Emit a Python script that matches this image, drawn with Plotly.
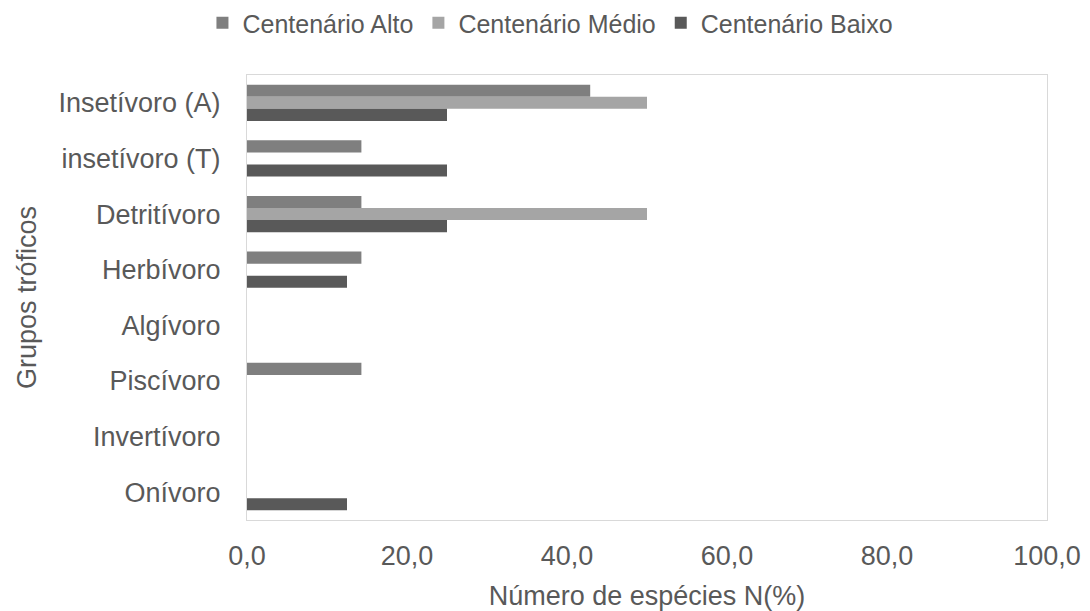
import plotly.graph_objects as go

categories = ["Insetívoro (A)", "insetívoro (T)", "Detritívoro", "Herbívoro",
              "Algívoro", "Piscívoro", "Invertívoro", "Onívoro"]
alto = [42.9, 14.3, 14.3, 14.3, 0, 14.3, 0, 0]
medio = [50.0, 0, 50.0, 0, 0, 0, 0, 0]
baixo = [25.0, 25.0, 25.0, 12.5, 0, 0, 0, 12.5]
series_names = ["Centenário Alto", "Centenário Médio", "Centenário Baixo"]
colors = ["#7f7f7f", "#a5a5a5", "#595959"]

fig = go.Figure()
for name, vals, c in zip(series_names, [alto, medio, baixo], colors):
    fig.add_trace(go.Bar(y=categories, x=vals, name=name, orientation="h",
                         marker=dict(color=c, line=dict(width=0))))

font_color = "#595959"
fig.update_layout(
    width=1090, height=611,
    margin=dict(l=247, r=43, t=75, b=91, autoexpand=False),
    barmode="group", bargap=0.35, bargroupgap=0,
    plot_bgcolor="white", paper_bgcolor="white",
    separators=",.",
    font=dict(family="Liberation Sans, Arial, sans-serif", color=font_color, size=27),
    legend=dict(orientation="h", x=0.505, xanchor="center", xref="container",
                y=1.0, yanchor="top", yref="container", traceorder="normal",
                font=dict(size=25, color=font_color)),
    xaxis=dict(range=[0, 100], dtick=20, tickformat=".1f", showgrid=False,
               zeroline=False, showline=True, linecolor="#d9d9d9", mirror=True,
               ticks="", ticklabelstandoff=12, automargin=False,
               title=dict(text="Número de espécies N(%)", font=dict(size=27), standoff=16)),
    yaxis=dict(autorange="reversed", showgrid=False, zeroline=False, showline=True,
               linecolor="#d9d9d9", mirror=True, ticks="", ticklabelstandoff=20,
               automargin=False,
               title=dict(text="Grupos tróficos", font=dict(size=27), standoff=14)),
)
fig.write_html("out.html")
